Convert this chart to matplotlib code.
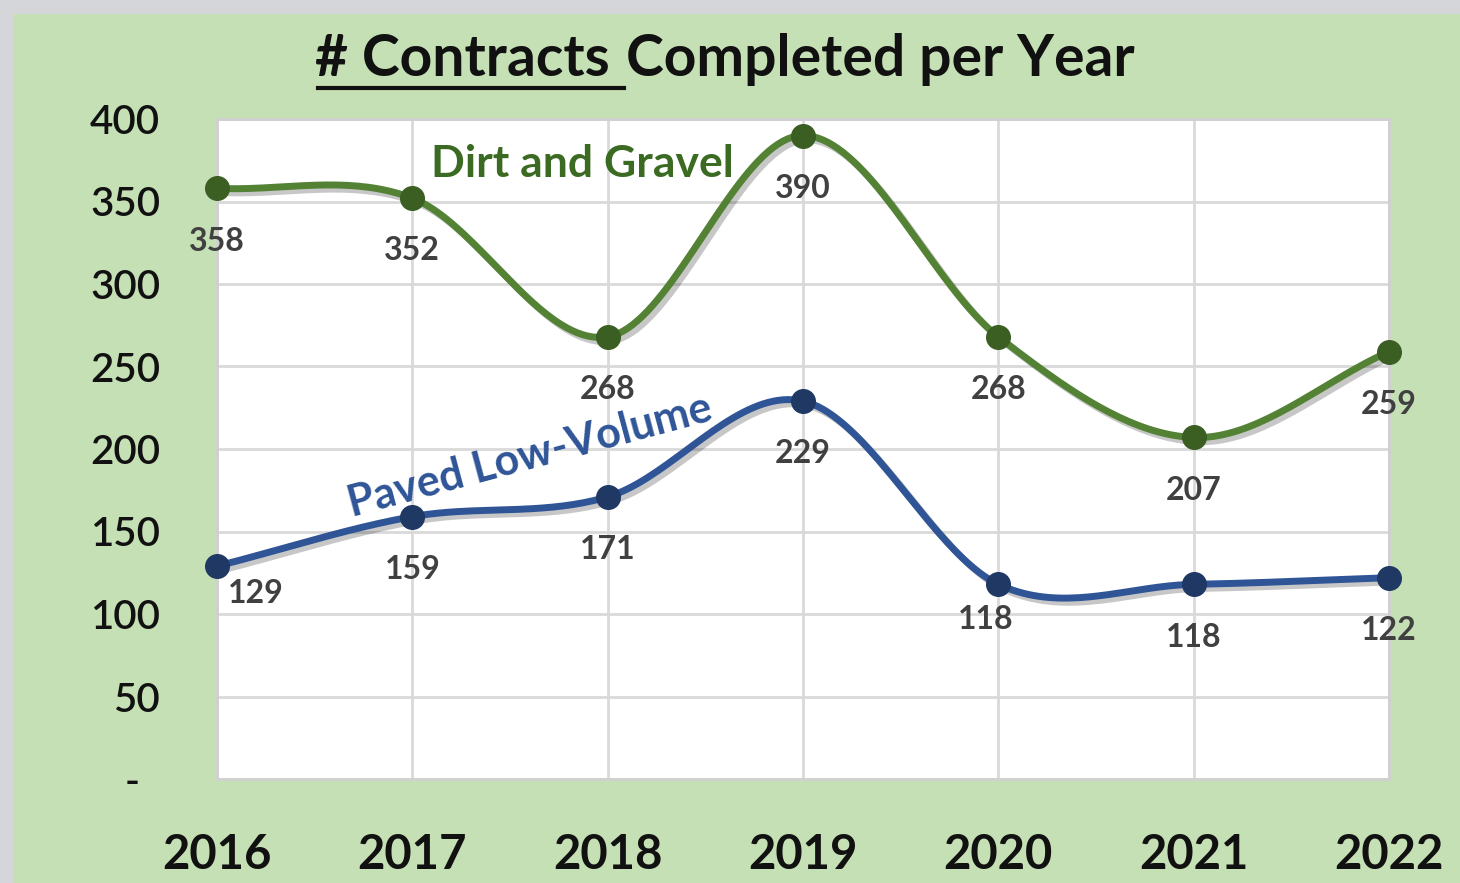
import numpy as np
import matplotlib.pyplot as plt
import matplotlib.patheffects as pe
from matplotlib.patches import Rectangle

plt.rcParams['font.family'] = ['Lato', 'DejaVu Sans']

years = ["2016", "2017", "2018", "2019", "2020", "2021", "2022"]
dirt_gravel = [358, 352, 268, 390, 268, 207, 259]
paved_low = [129, 159, 171, 229, 118, 118, 122]
y_ticks = [0, 50, 100, 150, 200, 250, 300, 350, 400]
y_tick_labels = ["-  ", "50", "100", "150", "200", "250", "300", "350", "400"]

# label offsets in points (dx, dy) for each data label
dirt_offsets = [(0, -38), (0, -38), (0, -38), (0, -38), (0, -38), (0, -38), (0, -38)]
paved_offsets = [(28, -20), (0, -38), (0, -38), (0, -38), (-9, -25), (0, -38), (0, -38)]


def smooth(x, y, n=40):
    # catmull-rom style smoothing, roughly like excel's smoothed line
    x = np.asarray(x, float)
    y = np.asarray(y, float)
    px = np.concatenate([[2 * x[0] - x[1]], x, [2 * x[-1] - x[-2]]])
    py = np.concatenate([[2 * y[0] - y[1]], y, [2 * y[-1] - y[-2]]])
    xs, ys = [], []
    t = np.linspace(0, 1, n)
    for i in range(1, len(px) - 2):
        p0, p1, p2, p3 = (np.array([px[j], py[j]]) for j in range(i - 1, i + 3))
        c1 = p1 + (p2 - p0) / 6
        c2 = p2 - (p3 - p1) / 6
        b = ((1 - t) ** 3)[:, None] * p1 + (3 * (1 - t) ** 2 * t)[:, None] * c1 \
            + (3 * (1 - t) * t ** 2)[:, None] * c2 + (t ** 3)[:, None] * p2
        xs.extend(b[:, 0])
        ys.extend(b[:, 1])
    return np.array(xs), np.array(ys)


fig = plt.figure(figsize=(14.6, 8.83), dpi=100)
fig.patch.set_facecolor("#c5e0b4")

# gray frame at top and left like the screenshot
fig.patches.append(Rectangle((0, 1 - 14 / 883), 1, 14 / 883, transform=fig.transFigure,
                             facecolor="#d4d6da", edgecolor="none", zorder=0))
fig.patches.append(Rectangle((0, 0), 14 / 1460, 1, transform=fig.transFigure,
                             facecolor="#d4d6da", edgecolor="none", zorder=0))

ax = fig.add_axes([217 / 1460, 1 - 779 / 883, (1389 - 217) / 1460, (779 - 119) / 883])
ax.set_facecolor("white")

x = np.arange(len(years))
ax.set_xlim(0, len(years) - 1)
ax.set_ylim(0, 400)

ax.set_yticks(y_ticks)
ax.set_yticklabels(y_tick_labels, fontsize=29, color="#111111", fontweight="semibold")
ax.set_xticks(x)
ax.set_xticklabels(years, fontsize=34, fontweight="bold", color="#111111")
ax.tick_params(axis="both", length=0)
ax.tick_params(axis="y", pad=41)
ax.tick_params(axis="x", pad=39)

ax.grid(True, color="#d9d9d9", linewidth=2)
ax.set_axisbelow(True)
for s in ax.spines.values():
    s.set_color("#d0d0d0")
    s.set_linewidth(2)

shadow = [pe.SimpleLineShadow(offset=(3, -3), shadow_color="black", alpha=0.22), pe.Normal()]

sx, sy = smooth(x, dirt_gravel)
ax.plot(sx, sy, color="#548235", linewidth=5, path_effects=shadow, clip_on=False, zorder=3)
ax.plot(x, dirt_gravel, "o", color="#3b5e23", markersize=17, clip_on=False, zorder=4)

sx, sy = smooth(x, paved_low)
ax.plot(sx, sy, color="#2f5597", linewidth=5, path_effects=shadow, clip_on=False, zorder=3)
ax.plot(x, paved_low, "o", color="#1f3864", markersize=17, clip_on=False, zorder=4)

for i, v in enumerate(dirt_gravel):
    ax.annotate(str(v), (x[i], v), xytext=dirt_offsets[i], textcoords="offset points",
                ha="center", va="center", fontsize=23, fontweight="bold", color="#404040",
                zorder=5, annotation_clip=False)
for i, v in enumerate(paved_low):
    ax.annotate(str(v), (x[i], v), xytext=paved_offsets[i], textcoords="offset points",
                ha="center", va="center", fontsize=23, fontweight="bold", color="#404040",
                zorder=5, annotation_clip=False)

ax.text(1.87, 373, "Dirt and Gravel", fontsize=32, fontweight="bold", color="#3b6a22",
        ha="center", va="center", zorder=5)
ax.text(1.6, 196, "Paved Low-Volume", fontsize=31, fontweight="bold", color="#2f5597",
        ha="center", va="center", rotation=15, zorder=5)

# title, first part underlined
fig.text(624 / 1460, 1 - 60 / 883, "# Contracts ", fontsize=41, fontweight="bold",
         ha="right", va="center", color="#111111")
fig.text(626 / 1460, 1 - 60 / 883, "Completed per Year", fontsize=41, fontweight="bold",
         ha="left", va="center", color="#111111")
fig.add_artist(plt.Line2D([318 / 1460, 624 / 1460], [1 - 88 / 883, 1 - 88 / 883],
                          transform=fig.transFigure, color="#111111", linewidth=3))

plt.savefig("out.png", dpi=100, facecolor=fig.get_facecolor())
